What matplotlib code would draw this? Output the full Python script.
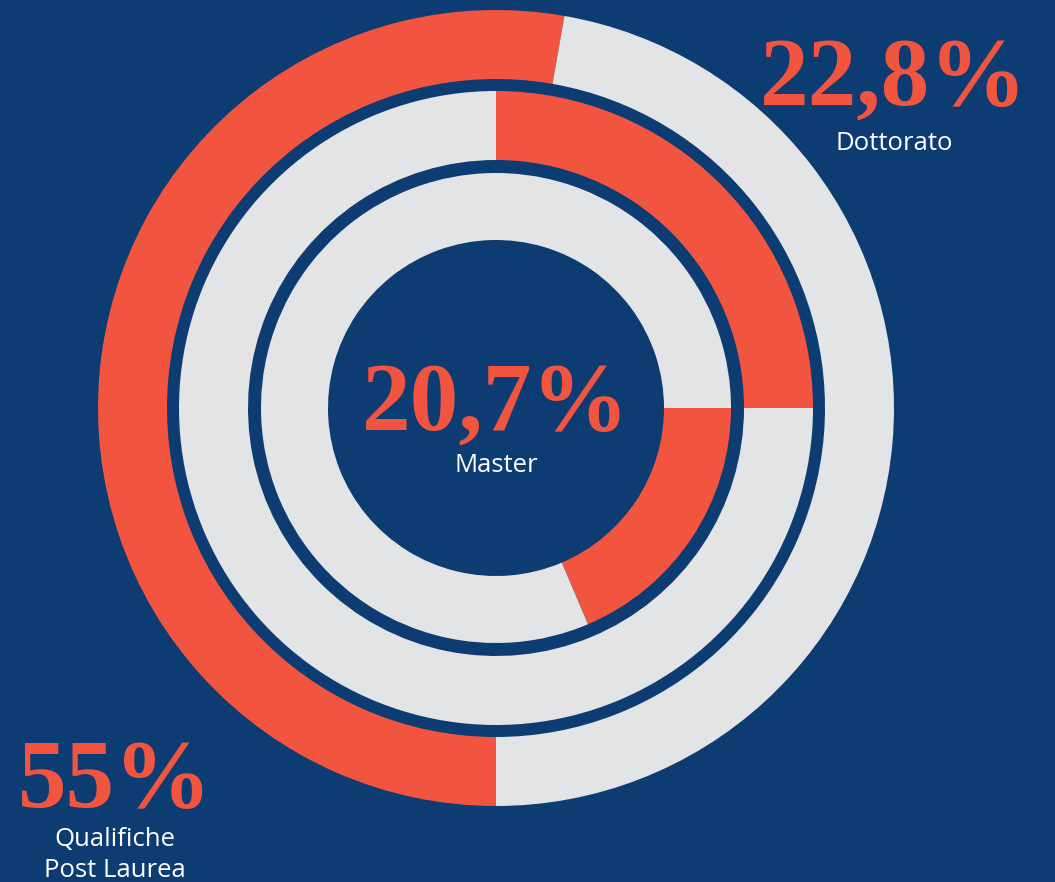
import matplotlib
matplotlib.use("Agg")
import matplotlib.pyplot as plt

# --- data -------------------------------------------------------------
ring_names = ["Qualifiche\nPost Laurea", "Dottorato", "Master"]
ring_labels = ["55%", "22,8%", "20,7%"]
# share of each ring drawn in red, as measured on the original graphic
arc_shares = [52.75, 25.0, 18.6]
start_angles = [270, 90, 0]

BG = "#0d3c73"
RED = "#f1543f"
GREY = "#e3e4e6"

W, H = 1055, 882
CX, CY = 496, H - 408
radii = [398, 317, 235]
ring_width = [69, 69, 67]

fig = plt.figure(figsize=(W / 100, H / 100), dpi=100, facecolor=BG)
ax = fig.add_axes([0, 0, 1, 1])
ax.set_facecolor(BG)

for share, start, r, w in zip(arc_shares, start_angles, radii, ring_width):
    ax.pie([share, 100 - share], colors=[RED, GREY], startangle=start,
           counterclock=False, radius=r, center=(CX, CY),
           wedgeprops=dict(width=w, linewidth=0))

ax.set_xlim(0, W)
ax.set_ylim(0, H)
ax.set_aspect("equal")
ax.axis("off")

num_font = dict(family="Liberation Serif", weight="bold", color=RED,
                ha="center", va="baseline", size=70)
lab_font = dict(family="Open Sans", color="white", ha="center",
                va="baseline", size=18.5)

# Dottorato (top right)
ax.text(894, H - 105, ring_labels[1], **num_font)
ax.text(894, H - 150, ring_names[1], **lab_font)

# Master (centre)
ax.text(CX, H - 430, ring_labels[2], **num_font)
ax.text(CX, H - 472, ring_names[2], **lab_font)

# Qualifiche Post Laurea (bottom left); multi-line text anchors on last baseline
ax.text(115, H - 877, ring_names[0], linespacing=1.3, multialignment="center",
        **lab_font)
ax.text(115, H - 807, ring_labels[0], **num_font)

fig.savefig("out.png", dpi=100, facecolor=BG)
